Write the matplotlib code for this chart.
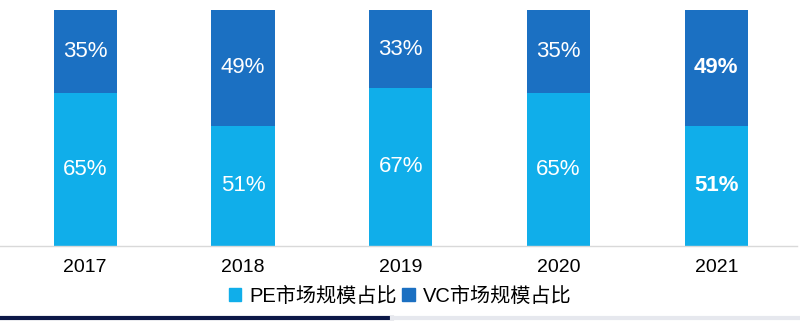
import matplotlib
matplotlib.use("Agg")
import matplotlib.pyplot as plt
import numpy as np
from matplotlib.lines import Line2D
from matplotlib.patches import Patch

plt.rcParams['font.family'] = ['Liberation Sans', 'Noto Sans CJK SC']

years = ['2017', '2018', '2019', '2020', '2021']
pe_share = [65, 51, 67, 65, 51]
vc_share = [35, 49, 33, 35, 49]
bold_years = ['2021']

pe_color = '#10aeea'
vc_color = '#1b70c2'

fig = plt.figure(figsize=(8, 3.25), dpi=100)
ax = fig.add_axes([0.0, 0.243, 0.996, 0.726])

x = np.arange(len(years))
ax.bar(x, pe_share, width=0.4, color=pe_color, label='PE市场规模占比')
ax.bar(x, vc_share, width=0.4, bottom=pe_share, color=vc_color, label='VC市场规模占比')

for i, y in enumerate(years):
    w = 'bold' if y in bold_years else 'normal'
    ax.text(x[i], pe_share[i] / 2, f'{pe_share[i]}%', ha='center', va='center',
            color='white', fontsize=16, fontweight=w)
    ax.text(x[i], pe_share[i] + vc_share[i] / 2, f'{vc_share[i]}%', ha='center', va='center',
            color='white', fontsize=16, fontweight=w)

ax.set_xlim(-0.54, 4.51)
ax.set_ylim(0, 100)
ax.set_xticks(x)
ax.set_xticklabels(years, fontsize=14)
ax.tick_params(axis='x', length=0, pad=9)
ax.set_yticks([])
for s in ['top', 'right', 'left']:
    ax.spines[s].set_visible(False)
ax.spines['bottom'].set_color('#d9d9d9')
ax.spines['bottom'].set_linewidth(1)

handles = [Patch(color=pe_color), Patch(color=vc_color)]
fig.legend(handles, ['PE市场规模占比', 'VC市场规模占比'], loc='center',
           bbox_to_anchor=(0.5, 0.088), ncol=2, frameon=False, fontsize=14.5,
           handlelength=0.6, handleheight=0.6, handletextpad=0.4, columnspacing=0.3)

# bottom bar lines
fig.add_artist(Line2D([0, 0.49], [0.022, 0.022], color='#0c1848', lw=3))
fig.add_artist(Line2D([0.49, 1.0], [0.022, 0.022], color='#e6e8ee', lw=3))

fig.savefig('out.png', dpi=100)
